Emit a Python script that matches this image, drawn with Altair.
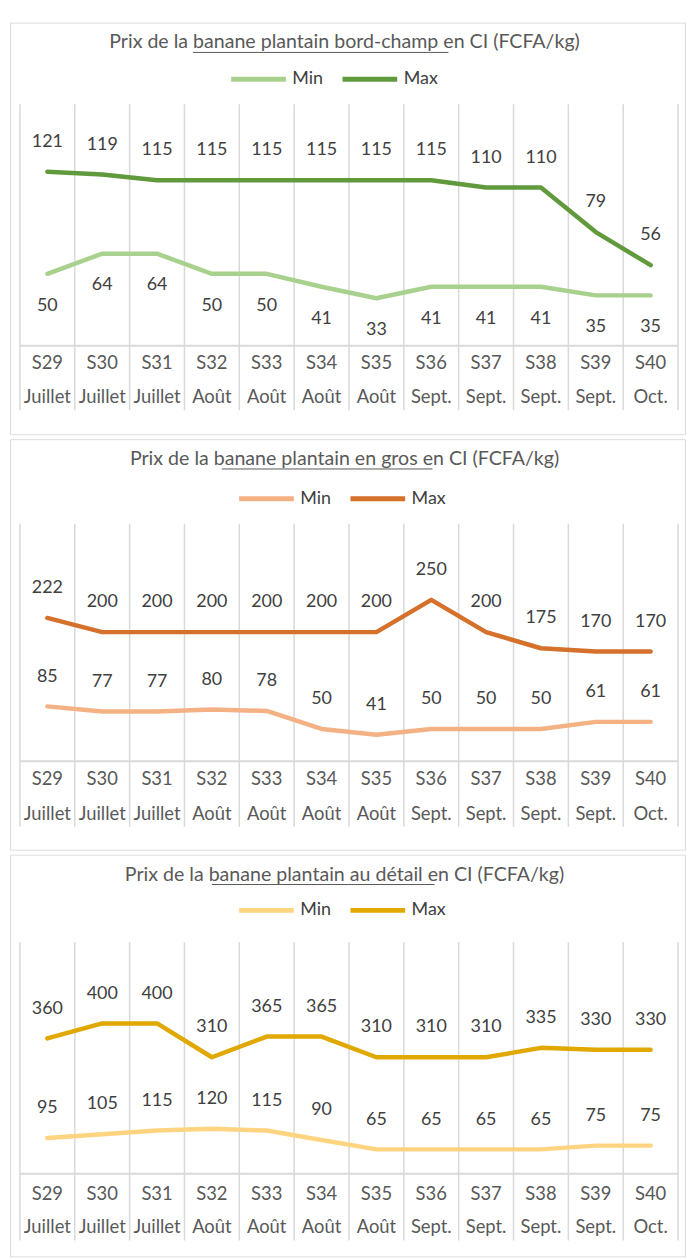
import altair as alt
import pandas as pd

weeks = ["S29", "S30", "S31", "S32", "S33", "S34", "S35", "S36", "S37", "S38", "S39", "S40"]
months = ["Juillet", "Juillet", "Juillet", "Août", "Août", "Août", "Août",
          "Sept.", "Sept.", "Sept.", "Sept.", "Oct."]

bord_min = [50, 64, 64, 50, 50, 41, 33, 41, 41, 41, 35, 35]
bord_max = [121, 119, 115, 115, 115, 115, 115, 115, 110, 110, 79, 56]
gros_min = [85, 77, 77, 80, 78, 50, 41, 50, 50, 50, 61, 61]
gros_max = [222, 200, 200, 200, 200, 200, 200, 250, 200, 175, 170, 170]
detail_min = [95, 105, 115, 120, 115, 90, 65, 65, 65, 65, 75, 75]
detail_max = [360, 400, 400, 310, 365, 365, 310, 310, 310, 335, 330, 330]

series_names = ["Min", "Max"]

FONT = "Lato"
TXT = "#404040"
TITLE_C = "#595959"
GRID = "#d9d9d9"
PANEL_W = 679
X0, X1 = 10, 672


def panel(title_parts, vmin, vmax, cmin, cmax, p):
    df = pd.DataFrame({
        "week": weeks * 2,
        "series": ["Min"] * 12 + ["Max"] * 12,
        "value": vmin + vmax,
    })
    wk = pd.DataFrame({"week": weeks, "month": months})
    xs = alt.Scale(domain=weeks, range=[X0, X1], paddingInner=0, paddingOuter=0)
    ys = alt.Scale(domain=[0, p["ymax"]], range=[p["axis"], p["top"]], nice=False, zero=True)

    grid = alt.Chart(wk).mark_rule(color=GRID, strokeWidth=1.5).encode(
        x=alt.X("week:N", scale=xs, axis=None, bandPosition=0),
        y=alt.value(p["top"]), y2=alt.value(p["gbot"]),
    )
    grid_end = alt.Chart(wk).transform_filter(alt.datum.week == weeks[-1]).mark_rule(
        color=GRID, strokeWidth=1.5).encode(
        x=alt.X("week:N", scale=xs, axis=None, bandPosition=1),
        y=alt.value(p["top"]), y2=alt.value(p["gbot"]),
    )
    base_line = alt.Chart(pd.DataFrame({"v": [0]})).mark_rule(color=GRID, strokeWidth=2).encode(
        x=alt.value(X0), x2=alt.value(X1),
        y=alt.Y("v:Q", scale=ys, axis=None),
    )
    lines = alt.Chart(df).mark_line(strokeWidth=4.5, strokeCap="round", strokeJoin="round").encode(
        x=alt.X("week:N", scale=xs, axis=None, sort=weeks),
        y=alt.Y("value:Q", scale=ys, axis=None),
        color=alt.Color("series:N", sort=series_names,
                        scale=alt.Scale(domain=series_names, range=[cmin, cmax]),
                        legend=alt.Legend(title=None, orient="none", direction="horizontal",
                                          legendX=p["lx"], legendY=p["ly"],
                                          symbolType="stroke", symbolSize=3025,
                                          symbolStrokeWidth=5, labelFont=FONT,
                                          labelFontSize=18, labelColor=TXT,
                                          labelOffset=4, columnPadding=9, padding=0)),
        detail="series:N",
    )
    lab_max = alt.Chart(df).transform_filter(alt.datum.series == "Max").mark_text(
        font=FONT, fontSize=18, color=TXT, dy=-30, baseline="middle").encode(
        x=alt.X("week:N", scale=xs, axis=None), y=alt.Y("value:Q", scale=ys, axis=None),
        text="value:Q")
    lab_min = alt.Chart(df).transform_filter(alt.datum.series == "Min").mark_text(
        font=FONT, fontSize=18, color=TXT, dy=p["mindy"], baseline="middle").encode(
        x=alt.X("week:N", scale=xs, axis=None), y=alt.Y("value:Q", scale=ys, axis=None),
        text="value:Q")
    wk_lab = alt.Chart(wk).mark_text(font=FONT, fontSize=18.5, color=TITLE_C, baseline="middle").encode(
        x=alt.X("week:N", scale=xs, axis=None), y=alt.value(p["wy"]), text="week:N")
    mo_lab = alt.Chart(wk).mark_text(font=FONT, fontSize=18.5, color=TITLE_C, baseline="middle").encode(
        x=alt.X("week:N", scale=xs, axis=None), y=alt.value(p["my"]), text="month:N")
    title = alt.Chart(pd.DataFrame({"t": ["".join(title_parts)]})).mark_text(
        font=FONT, fontSize=19.7, color=TITLE_C, baseline="middle", align="center").encode(
        x=alt.value(PANEL_W / 2 - 3), y=alt.value(p["ty"]), text="t:N")
    underline = alt.Chart(pd.DataFrame({"t": [title_parts[1]]})).mark_rule(
        color=TITLE_C, strokeWidth=1).encode(
        x=alt.value(p["u0"]), x2=alt.value(p["u1"]), y=alt.value(p["ty"] + 10))

    return alt.layer(grid, grid_end, base_line, lines, lab_max, lab_min, wk_lab, mo_lab,
                     title, underline).properties(width=PANEL_W, height=p["h"])


p1 = dict(ymax=168, top=82, axis=325, gbot=390, wy=342, my=377, h=414, ty=20,
          lx=220, ly=27, mindy=32, u0=184, u1=441)
p2 = dict(ymax=368, top=85, axis=324, gbot=390, wy=342, my=377, h=413, ty=20,
          lx=228, ly=30, mindy=-30, u0=213, u1=425)
p3 = dict(ymax=616, top=88, axis=321, gbot=388, wy=341, my=375, h=404, ty=20,
          lx=228, ly=26, mindy=-30, u0=203, u1=427)

c1 = panel(["Prix de la ", "banane plantain bord-champ ", "en CI (FCFA/kg)"],
           bord_min, bord_max, "#a9d18e", "#619a3d", p1)
c2 = panel(["Prix de la ", "banane plantain en gros ", "en CI (FCFA/kg)"],
           gros_min, gros_max, "#f4b183", "#d5712b", p2)
c3 = panel(["Prix de la ", "banane plantain au détail ", "en CI (FCFA/kg)"],
           detail_min, detail_max, "#ffd480", "#e0a800", p3)

chart = alt.vconcat(c1, c2, c3, spacing=3).resolve_scale(
    color="independent", x="independent", y="independent"
).properties(
    padding={"top": 10, "left": 1, "right": 0, "bottom": 0}
).configure_view(stroke=GRID, strokeWidth=2).configure(background="white")

chart.save("out.html", embed_options={"renderer": "svg", "actions": False})
